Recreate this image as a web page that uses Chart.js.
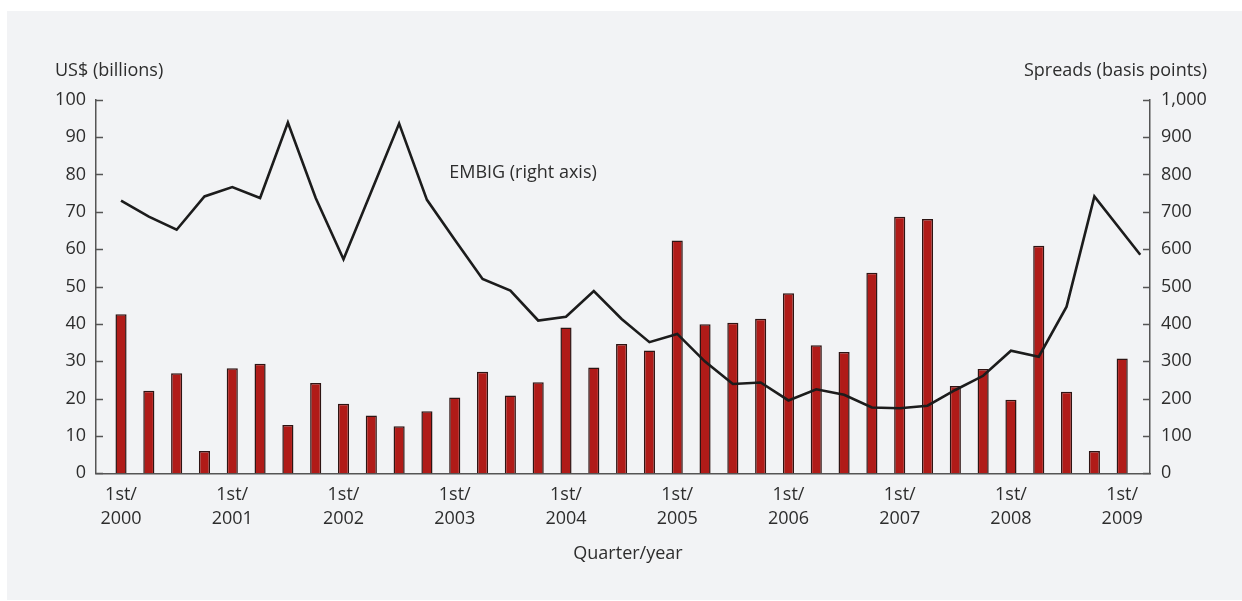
<!DOCTYPE html>
<html>
<head>
<meta charset="utf-8">
<script src="https://cdn.jsdelivr.net/npm/chart.js@4.4.1/dist/chart.umd.min.js"></script>
<style>
  html, body { margin: 0; padding: 0; background: #fff; }
  #wrap { width: 1242px; height: 601px; }
</style>
</head>
<body>
<div id="wrap"><canvas id="bondsChart" width="1242" height="601"></canvas></div>
<script>
// Quarters, 1st/2000 to 1st/2009
const quarters = [
  '2000Q1', '2000Q2', '2000Q3', '2000Q4', '2001Q1', '2001Q2', '2001Q3', '2001Q4',
  '2002Q1', '2002Q2', '2002Q3', '2002Q4', '2003Q1', '2003Q2', '2003Q3', '2003Q4',
  '2004Q1', '2004Q2', '2004Q3', '2004Q4', '2005Q1', '2005Q2', '2005Q3', '2005Q4',
  '2006Q1', '2006Q2', '2006Q3', '2006Q4', '2007Q1', '2007Q2', '2007Q3', '2007Q4',
  '2008Q1', '2008Q2', '2008Q3', '2008Q4', '2009Q1'
];

// Bond issuance, US$ billions (left axis)
const issuance = [
  42.6, 22.1, 26.8, 6.0, 28.1, 29.3, 12.9, 24.2,
  18.6, 15.5, 12.6, 16.6, 20.3, 27.2, 20.8, 24.4,
  39.0, 28.3, 34.6, 32.9, 62.3, 39.9, 40.3, 41.4,
  48.2, 34.3, 32.5, 53.7, 68.7, 68.1, 23.4, 27.9,
  19.7, 60.9, 21.8, 6.0, 30.7
];

// EMBIG spreads, basis points (right axis)
const embig = [
  730, 687, 652, 741, 766, 737, 939, 737,
  573, 754, 936, 732, 625, 520, 489, 409,
  419, 488, 413, 351, 373, 299, 239, 243,
  195, 225, 210, 176, 174, 181, 223, 261,
  328, 312, 446, 741, 585
];

// Tick labels
const yearLabels = ['2000', '2001', '2002', '2003', '2004', '2005', '2006', '2007', '2008', '2009'];
const leftTicks = [0, 10, 20, 30, 40, 50, 60, 70, 80, 90, 100];
const rightTicks = [0, 100, 200, 300, 400, 500, 600, 700, 800, 900, 1000];

const FONT = '"Open Sans", "Noto Sans", sans-serif';
const TEXT = '#2d2d2d';
const AXIS = '#555555';

// last spread reading sits late in the quarter
const embigX = quarters.map((q, i) => i);
embigX[embigX.length - 1] = 36.65;

// Fondo gris y textos fuera de los ejes
const decor = {
  id: 'decor',
  beforeDraw(chart) {
    const ctx = chart.ctx;
    ctx.save();
    ctx.fillStyle = '#ffffff';
    ctx.fillRect(0, 0, chart.width, chart.height);
    ctx.fillStyle = '#f2f3f5';
    ctx.fillRect(7, 11, chart.width - 7, 589);
    ctx.restore();
  },
  afterDraw(chart) {
    const ctx = chart.ctx;
    const { y, y2, x } = chart.scales;
    ctx.save();
    // ticks hacia adentro
    ctx.strokeStyle = AXIS;
    ctx.lineWidth = 1.5;
    ctx.beginPath();
    leftTicks.forEach(v => {
      const py = Math.round(y.getPixelForValue(v)) + 0.5;
      ctx.moveTo(y.right, py);
      ctx.lineTo(y.right + 7, py);
    });
    rightTicks.forEach(v => {
      const py = Math.round(y2.getPixelForValue(v)) + 0.5;
      ctx.moveTo(y2.left, py);
      ctx.lineTo(y2.left - 7, py);
    });
    ctx.stroke();

    ctx.fillStyle = TEXT;
    ctx.font = '18px ' + FONT;
    ctx.textBaseline = 'middle';
    ctx.textAlign = 'left';
    ctx.fillText('US$ (billions)', 55, 71);
    ctx.fillText('EMBIG (right axis)', x.getPixelForValue(11.8), y2.getPixelForValue(803));
    ctx.textAlign = 'right';
    ctx.fillText('Spreads (basis points)', 1207, 71);
    ctx.textAlign = 'center';
    ctx.fillText('Quarter/year', 628, 554);
    ctx.restore();
  }
};

const ctx = document.getElementById('bondsChart').getContext('2d');
const bondsChart = new Chart(ctx, {
  type: 'bar',
  data: {
    datasets: [{
      type: 'line',
      label: 'EMBIG',
      data: embig.map((v, i) => ({ x: embigX[i], y: v })),
      yAxisID: 'y2',
      borderColor: '#1c1c1c',
      borderWidth: 2.6,
      pointRadius: 0,
      tension: 0,
      order: 0
    }, {
      label: 'Issuance',
      data: issuance.map((v, i) => ({ x: i, y: v })),
      yAxisID: 'y',
      backgroundColor: '#b01b18',
      borderColor: '#2e1413',
      borderWidth: 1.5,
      barPercentage: 0.4,
      categoryPercentage: 1,
      order: 1
    }]
  },
  options: {
    responsive: false,
    animation: false,
    devicePixelRatio: 1,
    layout: { padding: { top: 99.7, left: 0, right: 0, bottom: 0 } },
    plugins: {
      legend: { display: false },
      tooltip: { enabled: false }
    },
    scales: {
      x: {
        type: 'linear',
        offset: false,
        bounds: 'ticks',
        min: -0.9,
        max: 37,
        afterBuildTicks: scale => {
          scale.ticks = yearLabels.map((yr, k) => ({ value: k * 4 }));
        },
        afterFit: scale => { scale.height = 127.7; },
        grid: { display: false, drawTicks: false, offset: false },
        border: { display: true, color: AXIS, width: 1.5 },
        ticks: {
          padding: 10,
          color: TEXT,
          font: { family: FONT, size: 18, lineHeight: 1.3 },
          maxRotation: 0,
          autoSkip: false,
          callback: v => ['1st/', yearLabels[v / 4]]
        }
      },
      y: {
        position: 'left',
        min: 0,
        max: 100,
        afterBuildTicks: scale => {
          scale.ticks = leftTicks.map(v => ({ value: v }));
        },
        afterFit: scale => { scale.width = 96; },
        grid: { display: false, drawTicks: false },
        border: { display: true, color: AXIS, width: 1.5 },
        ticks: {
          padding: 10,
          color: TEXT,
          font: { family: FONT, size: 18 }
        }
      },
      y2: {
        position: 'right',
        min: 0,
        max: 1000,
        afterBuildTicks: scale => {
          scale.ticks = rightTicks.map(v => ({ value: v }));
        },
        afterFit: scale => { scale.width = 92; },
        grid: { display: false, drawTicks: false },
        border: { display: true, color: AXIS, width: 1.5 },
        ticks: {
          padding: 11,
          color: TEXT,
          font: { family: FONT, size: 18 },
          callback: v => v.toLocaleString('en-US')
        }
      }
    }
  },
  plugins: [decor]
});
</script>
</body>
</html>
